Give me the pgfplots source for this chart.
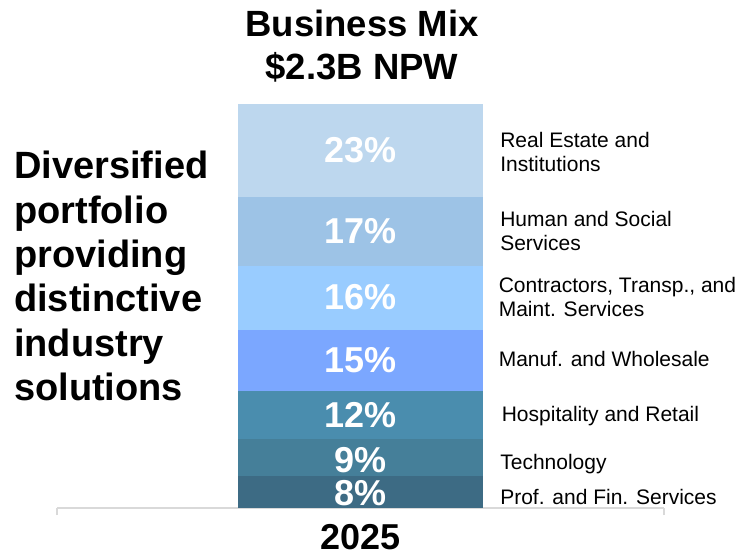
\documentclass[border=0pt]{standalone}
\usepackage{fontspec}
\setmainfont{Liberation Sans}
\usepackage{pgfplots}
\pgfplotsset{compat=1.18}
\definecolor{cRE}{HTML}{BDD7EE}
\definecolor{cHS}{HTML}{9DC3E6}
\definecolor{cCT}{HTML}{99CCFF}
\definecolor{cMW}{HTML}{7BA7FF}
\definecolor{cHR}{HTML}{4A8DAE}
\definecolor{cTE}{HTML}{457F99}
\definecolor{cPF}{HTML}{3D6B84}
\definecolor{axgray}{HTML}{D9D9D9}
\tikzset{
  pct/.style={text=white, inner sep=0pt, font=\fontsize{36bp}{36bp}\selectfont\bfseries},
  lab/.style={anchor=west, inner sep=0pt, align=left, font=\fontsize{21bp}{24.5bp}\selectfont},
}
\begin{document}
\begin{tikzpicture}
\useasboundingbox (0,0) rectangle (744bp,558bp);
\begin{axis}[
  at={(57bp,50bp)}, anchor=south west,
  scale only axis, width=607bp, height=404bp,
  xmin=-1, xmax=1, ymin=0, ymax=100,
  ybar stacked, bar width=0.804,
  axis y line=none, axis x line*=bottom,
  x axis line style={draw=axgray, line width=1.5bp, -},
  xtick={-1,1}, xticklabels={},
  major tick length=7bp, tick align=outside,
  tick style={draw=axgray, line width=1.5bp},
  extra x ticks={0}, extra x tick labels={2025},
  extra x tick style={major tick length=0pt, tick style={draw=none}},
  xticklabel style={font=\fontsize{36bp}{40bp}\selectfont\bfseries, inner sep=0pt, yshift=-16bp},
  /pgf/number format/assume math mode=true,
  clip=false,
]
% bottom to top
\addplot[fill=cPF, draw=none] coordinates {(0,8)};
\addplot[fill=cTE, draw=none] coordinates {(0,9)};
\addplot[fill=cHR, draw=none] coordinates {(0,12)};
\addplot[fill=cMW, draw=none] coordinates {(0,15)};
\addplot[fill=cCT, draw=none] coordinates {(0,16)};
\addplot[fill=cHS, draw=none] coordinates {(0,17)};
\addplot[fill=cRE, draw=none] coordinates {(0,23)};

\coordinate (p8)  at (axis cs:0,3.6);
\coordinate (p9)  at (axis cs:0,11.8);
\coordinate (p12) at (axis cs:0,23);
\coordinate (p15) at (axis cs:0,36.6);
\coordinate (p16) at (axis cs:0,52.3);
\coordinate (p17) at (axis cs:0,68.5);
\coordinate (p23) at (axis cs:0,88.5);

\node[lab] at (axis cs:0.46,88.1) {Real Estate and\\Institutions};
\node[lab] at (axis cs:0.46,68.6) {Human and Social\\Services};
\node[lab] at (axis cs:0.455,52.2) {Contractors, Transp., and\\Maint. Services};
\node[lab] at (axis cs:0.455,36.9) {Manuf. and Wholesale};
\node[lab] at (axis cs:0.465,22.8) {Hospitality and Retail};
\node[lab] at (axis cs:0.46,10.9) {Technology};
\node[lab] at (axis cs:0.46,2.7)  {Prof. and Fin. Services};
\end{axis}
% segment values on top of the bar
\node[pct] at (p8)  {8\%};
\node[pct] at (p9)  {9\%};
\node[pct] at (p12) {12\%};
\node[pct] at (p15) {15\%};
\node[pct] at (p16) {16\%};
\node[pct] at (p17) {17\%};
\node[pct] at (p23) {23\%};
% title
\node[anchor=base, font=\fontsize{36.5bp}{43bp}\selectfont\bfseries] at (362bp,521bp) {Business Mix};
\node[anchor=base, font=\fontsize{36.5bp}{43bp}\selectfont\bfseries] at (362bp,478bp) {\$2.3B NPW};
% side text
\node[anchor=north west, inner sep=0pt, align=left,
      font=\fontsize{38bp}{44.4bp}\selectfont\bfseries] at (14bp,407bp)
  {Diversified\\portfolio\\providing\\distinctive\\industry\\solutions};
\end{tikzpicture}
\end{document}
